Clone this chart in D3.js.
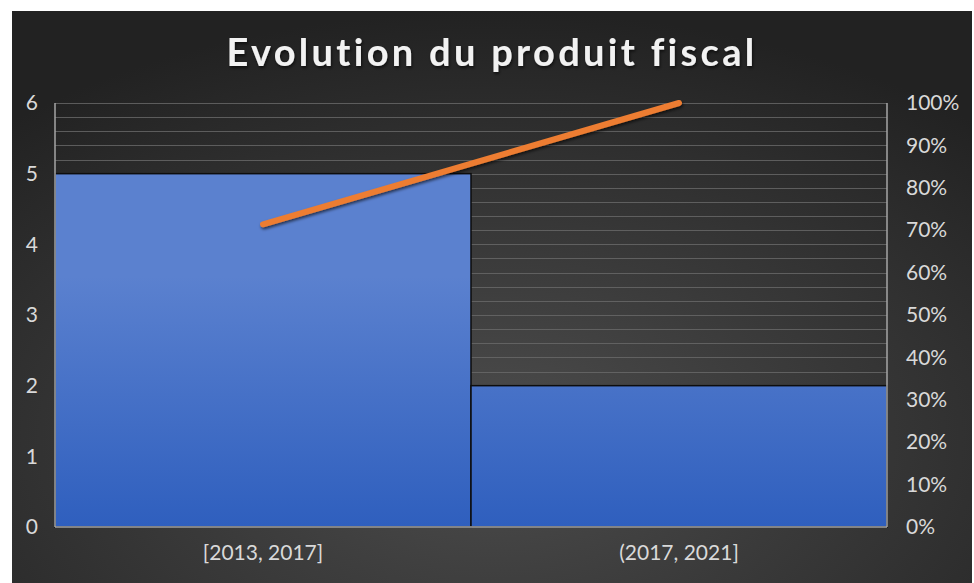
<!DOCTYPE html>
<html>
<head>
<meta charset="utf-8">
<script src="https://cdn.jsdelivr.net/npm/d3@7"></script>
<style>
  body { margin: 0; background: #fff; }
  svg { display: block; }
</style>
</head>
<body>
<svg width="974" height="583"></svg>
<script>

// chart data
var categories = ["[2013, 2017]", "(2017, 2021]"];
var values = [5, 2];
var cumulative = [0.714, 1.0];
var leftTicks = [0, 1, 2, 3, 4, 5, 6];
var rightTicks = [0, 0.1, 0.2, 0.3, 0.4, 0.5, 0.6, 0.7, 0.8, 0.9, 1.0];
var title = "Evolution du produit fiscal";

function styleLabels(sel) {
  sel.selectAll("text")
    .style("font-family", "Lato, 'Open Sans', sans-serif")
    .style("font-size", "21px")
    .attr("fill", "#d9d9d9");
}

function drawGraphic() {

  var svg = d3.select("svg"),
    margin = {top: 103, right: 87, bottom: 56, left: 55};

  var svgwidth = 974, svgheight = 583;
  var width = svgwidth - margin.left - margin.right;
  var height = svgheight - margin.top - margin.bottom;

  var defs = svg.append("defs");

  // dark radial background like the excel style
  var bg = defs.append("radialGradient")
    .attr("id", "bg")
    .attr("cx", "50%").attr("cy", "75%").attr("r", "75%");
  bg.append("stop").attr("offset", "0%").attr("stop-color", "#4d4d4d");
  bg.append("stop").attr("offset", "100%").attr("stop-color", "#222222");

  var barfill = defs.append("linearGradient")
    .attr("id", "barfill")
    .attr("gradientUnits", "userSpaceOnUse")
    .attr("x1", 0).attr("x2", 0)
    .attr("y1", margin.top + 70).attr("y2", margin.top + 320);
  barfill.append("stop").attr("offset", "0%").attr("stop-color", "#5b81cf");
  barfill.append("stop").attr("offset", "100%").attr("stop-color", "#2f5fbe");

  var shadow = defs.append("filter").attr("id", "shadow")
    .attr("x", "-5%").attr("y", "-20%").attr("width", "110%").attr("height", "160%");
  shadow.append("feDropShadow").attr("dx", 1).attr("dy", 2).attr("stdDeviation", 1.5)
    .attr("flood-color", "#000").attr("flood-opacity", 0.6);

  svg.append("rect")
    .attr("x", 12).attr("y", 11)
    .attr("width", 960).attr("height", 572)
    .attr("fill", "url(#bg)");

  svg.append("text")
    .attr("x", 492).attr("y", 66)
    .attr("text-anchor", "middle")
    .style("font-family", "Lato, 'Open Sans', sans-serif")
    .style("font-weight", "bold")
    .style("font-size", "38px")
    .style("letter-spacing", "3.3px")
    .attr("fill", "#f2f2f2")
    .attr("filter", "url(#shadow)")
    .text(title);

  var x = d3.scaleBand()
    .domain(categories)
    .range([0, width])
    .padding(0);

  var y = d3.scaleLinear()
    .domain([0, 6])
    .range([height, 0]);

  var y2 = d3.scaleLinear()
    .domain([0, 1])
    .range([height, 0]);

  var g = svg.append("g")
    .attr("transform", "translate(" + margin.left + "," + margin.top + ")");

  // minor gridlines every 0.2
  g.append("g")
    .attr("class", "grid")
    .selectAll("line")
    .data(y.ticks(30))
    .enter().append("line")
    .attr("x1", 0).attr("x2", width)
    .attr("y1", function(d) { return Math.round(y(d)) + 0.5; })
    .attr("y2", function(d) { return Math.round(y(d)) + 0.5; })
    .attr("stroke", "#6a6a6a")
    .attr("stroke-width", 1.2)
    .attr("opacity", 0.8);

  // bars
  g.selectAll(".bar")
    .data(values)
    .enter().append("rect")
    .attr("class", "bar")
    .attr("x", function(d, i) { return x(categories[i]); })
    .attr("y", function(d) { return y(d); })
    .attr("width", x.bandwidth())
    .attr("height", function(d) { return height - y(d); })
    .attr("fill", "url(#barfill)")
    .attr("stroke", "#0d0d0d")
    .attr("stroke-width", 1.5);

  // axis lines
  g.append("line")
    .attr("x1", 0).attr("x2", 0).attr("y1", 0).attr("y2", height)
    .attr("stroke", "#a6a6a6").attr("stroke-width", 1.5);
  g.append("line")
    .attr("x1", width).attr("x2", width).attr("y1", 0).attr("y2", height)
    .attr("stroke", "#a6a6a6").attr("stroke-width", 1.5);
  g.append("line")
    .attr("x1", 0).attr("x2", width).attr("y1", height).attr("y2", height)
    .attr("stroke", "#a6a6a6").attr("stroke-width", 1.5);

  // left axis labels
  var yAxis = g.append("g")
    .call(d3.axisLeft(y).tickValues(leftTicks).tickSize(0).tickPadding(17).tickFormat(d3.format("d")));
  yAxis.select(".domain").remove();
  styleLabels(yAxis);

  // right axis labels
  var yAxis2 = g.append("g")
    .attr("transform", "translate(" + width + ",0)")
    .call(d3.axisRight(y2).tickValues(rightTicks).tickSize(0).tickPadding(19).tickFormat(d3.format(".0%")));
  yAxis2.select(".domain").remove();
  styleLabels(yAxis2);

  // bottom axis labels
  var xAxis = g.append("g")
    .attr("transform", "translate(0," + height + ")")
    .call(d3.axisBottom(x).tickSize(0).tickPadding(18));
  xAxis.select(".domain").remove();
  styleLabels(xAxis);

  // cumulative line
  var line = d3.line()
    .x(function(d, i) { return x(categories[i]) + x.bandwidth() / 2; })
    .y(function(d) { return y2(d); });

  g.append("path")
    .datum(cumulative)
    .attr("d", line)
    .attr("fill", "none")
    .attr("stroke", "#ed7d31")
    .attr("stroke-width", 6)
    .attr("stroke-linecap", "round")
    .attr("filter", "url(#shadow)");
}

drawGraphic();
</script>
</body>
</html>
